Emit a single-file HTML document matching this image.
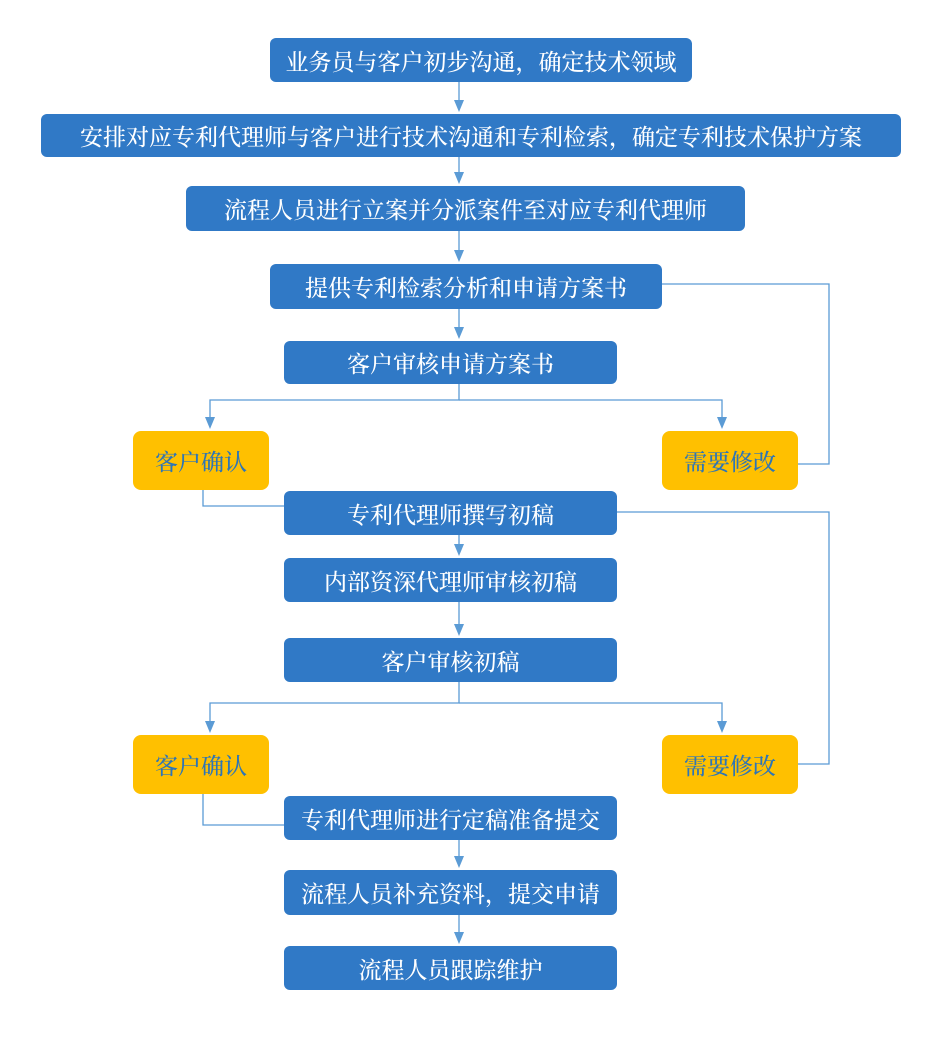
<!DOCTYPE html>
<html><head><meta charset="utf-8"><style>
body{margin:0;width:942px;height:1037px;background:#fff;position:relative;overflow:hidden;font-family:"Liberation Serif","Noto Serif CJK SC",serif;}
.b{position:absolute;background:#3079c6;color:#fff;border-radius:6px;display:flex;align-items:center;justify-content:center;font-size:23px;font-weight:500;}
.y{position:absolute;background:#ffc000;color:#2e75b6;border-radius:8px;display:flex;align-items:center;justify-content:center;font-size:23px;font-weight:500;}
svg{position:absolute;left:0;top:0}
</style></head><body>
<svg width="942" height="1037">
<g stroke="#5b9bd5" stroke-width="1.3" fill="none">
<path d="M459,82V104"/>
<path d="M459,157V176"/>
<path d="M459,231V254"/>
<path d="M459,309V331"/>
<path d="M459,384V400H210V421"/>
<path d="M459,400H722V421"/>
<path d="M662,284H829V464H798"/>
<path d="M203,490V506H284"/>
<path d="M459,535V548"/>
<path d="M459,602V628"/>
<path d="M459,682V703H210V725"/>
<path d="M459,703H722V725"/>
<path d="M617,512H829V764H798"/>
<path d="M203,794V825H284"/>
<path d="M459,840V860"/>
<path d="M459,915V936"/>
</g>
<g fill="#5b9bd5">
<path d="M454,100h10l-5,12z"/>
<path d="M454,172h10l-5,12z"/>
<path d="M454,250h10l-5,12z"/>
<path d="M454,327h10l-5,12z"/>
<path d="M205,417h10l-5,12z"/>
<path d="M717,417h10l-5,12z"/>
<path d="M454,544h10l-5,12z"/>
<path d="M454,624h10l-5,12z"/>
<path d="M205,721h10l-5,12z"/>
<path d="M717,721h10l-5,12z"/>
<path d="M454,856h10l-5,12z"/>
<path d="M454,932h10l-5,12z"/>
</g></svg>
<div class="b" style="left:270px;top:38px;width:422px;height:44px">业务员与客户初步沟通，确定技术领域</div>
<div class="b" style="left:41px;top:114px;width:860px;height:43px">安排对应专利代理师与客户进行技术沟通和专利检索，确定专利技术保护方案</div>
<div class="b" style="left:186px;top:186px;width:559px;height:45px">流程人员进行立案并分派案件至对应专利代理师</div>
<div class="b" style="left:270px;top:264px;width:392px;height:45px">提供专利检索分析和申请方案书</div>
<div class="b" style="left:284px;top:341px;width:333px;height:43px">客户审核申请方案书</div>
<div class="y" style="left:133px;top:431px;width:136px;height:59px">客户确认</div>
<div class="y" style="left:662px;top:431px;width:136px;height:59px">需要修改</div>
<div class="b" style="left:284px;top:491px;width:333px;height:44px">专利代理师撰写初稿</div>
<div class="b" style="left:284px;top:558px;width:333px;height:44px">内部资深代理师审核初稿</div>
<div class="b" style="left:284px;top:638px;width:333px;height:44px">客户审核初稿</div>
<div class="y" style="left:133px;top:735px;width:136px;height:59px">客户确认</div>
<div class="y" style="left:662px;top:735px;width:136px;height:59px">需要修改</div>
<div class="b" style="left:284px;top:796px;width:333px;height:44px">专利代理师进行定稿准备提交</div>
<div class="b" style="left:284px;top:870px;width:333px;height:45px">流程人员补充资料，提交申请</div>
<div class="b" style="left:284px;top:946px;width:333px;height:44px">流程人员跟踪维护</div>
</body></html>
